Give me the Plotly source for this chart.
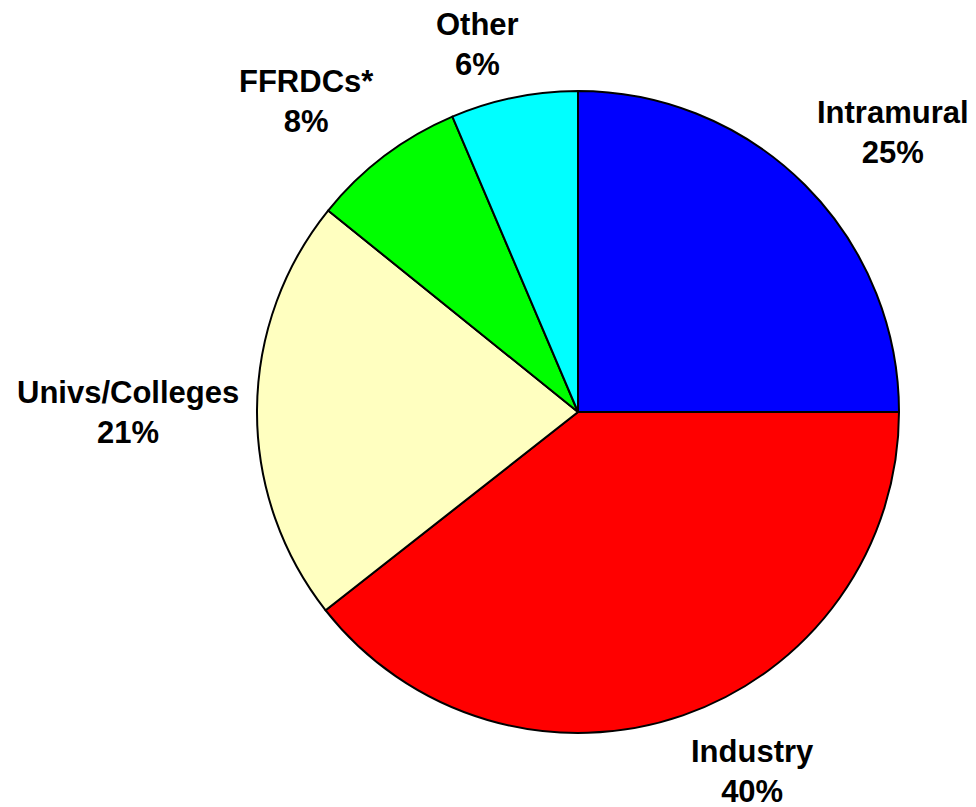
import math
import plotly.graph_objects as go

categories = ["Intramural", "Industry", "Univs/Colleges", "FFRDCs*", "Other"]
shares = [25.0, 39.4, 21.4, 7.8, 6.4]
pct_labels = ["25%", "40%", "21%", "8%", "6%"]
colors = ["#0000FF", "#FF0000", "#FFFFC0", "#00FF00", "#00FFFF"]

W, H = 976, 807
PAGE_OFF = 8  # default body margin of the html page
ML, MR, MT, MB = 257 - PAGE_OFF, 77 + PAGE_OFF, 91 - PAGE_OFF, 74 + PAGE_OFF
R = (W - ML - MR) / 2.0

# label offsets (px) from the slice's outer mid-point
label_shift = [(88, 53), (70, -56), (-129, -3), (-78, 54), (-36, 53)]

fig = go.Figure(go.Pie(
    labels=categories,
    values=shares,
    sort=False,
    direction="clockwise",
    rotation=0,
    textinfo="none",
    hoverinfo="label+percent",
    marker=dict(colors=colors, line=dict(color="black", width=2)),
    showlegend=False,
))

total = sum(shares)
cum = 0.0
annotations = []
for cat, val, pct, (sx, sy) in zip(categories, shares, pct_labels, label_shift):
    mid = (cum + val / 2.0) / total * 2 * math.pi
    cum += val
    ex = 0.5 + math.sin(mid) / 2.0
    ey = 0.5 + math.cos(mid) / 2.0
    annotations.append(dict(
        x=ex, y=ey, xref="paper", yref="paper",
        text=f"<b>{cat}</b><br><b>{pct}</b>", showarrow=False,
        xanchor="center", yanchor="middle",
        xshift=sx, yshift=sy,
        font=dict(family="Liberation Sans, Arial, sans-serif", size=31, color="black"),
    ))

fig.update_layout(
    width=W, height=H,
    margin=dict(l=ML, r=MR, t=MT, b=MB),
    paper_bgcolor="white", plot_bgcolor="white",
    annotations=annotations,
    font=dict(family="Liberation Sans, Arial, sans-serif"),
)

fig.write_html("out.html")
